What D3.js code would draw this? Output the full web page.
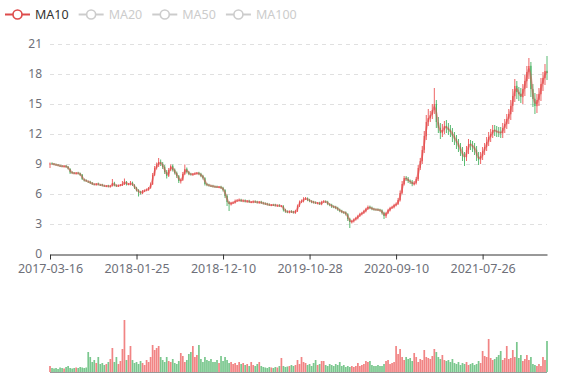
<!DOCTYPE html>
<html><head><meta charset="utf-8">
<script src="https://cdn.jsdelivr.net/npm/d3@7"></script>
<style>body{margin:0;background:#fff}svg{display:block;font-family:"Noto Sans",sans-serif}</style>
</head><body><svg id="c" width="577" height="380"></svg>
<script>
const tickLabels = ['2017-03-16','2018-01-25','2018-12-10','2019-10-28','2020-09-10','2021-07-26'];
const labelInterval = 43;
const legendNames = ['MA10','MA20','MA50','MA100'];
const activeSeries = ['MA10'];
const yTicks = [0,3,6,9,12,15,18,21];

const opens = [
8.95,9.08,9.02,8.96,8.92,8.83,8.82,8.72,8.82,8.72,
8.5,8.18,8.12,8.02,8.12,8.06,7.92,7.45,7.38,7.25,
7.22,7.12,6.98,6.92,7.04,6.92,6.93,6.84,6.76,6.84,
6.72,6.82,7.12,6.88,6.78,6.88,6.88,6.98,7.22,6.96,
6.96,7.14,6.88,6.62,6.38,6.22,6.08,6.32,6.38,6.42,
6.62,6.98,7.92,8.62,8.88,9.22,9.02,8.72,8.22,7.82,
8.42,8.82,8.42,8.12,7.78,7.28,7.42,8.02,8.52,8.18,
8.02,7.92,8.02,8.04,8.12,8.02,7.82,7.58,7.02,6.92,
6.82,6.82,6.76,6.74,6.68,6.72,6.62,6.38,5.82,5.18,4.98,
5.12,5.14,5.32,5.36,5.42,5.28,5.36,5.22,5.32,5.18,
5.18,5.26,5.22,5.12,5.22,5.12,5.06,5.02,4.96,4.88,
4.92,4.92,4.82,4.88,4.78,4.78,4.42,4.26,4.18,4.28,
4.22,4.12,4.32,4.82,5.22,5.28,5.52,5.56,5.42,5.28,
5.22,5.16,5.06,5.12,4.98,5.22,5.26,5.22,4.98,4.92,
4.76,4.72,4.62,4.44,4.32,4.18,4.16,3.98,3.52,3.18,
3.28,3.46,3.58,3.82,3.98,4.12,4.28,4.52,4.72,4.62,
4.52,4.46,4.46,4.42,4.36,4.12,3.78,4.12,4.38,4.62,4.68,
4.88,5.02,5.38,6.12,6.98,7.62,7.52,7.28,7.22,6.98,
7.12,7.48,8.62,9.28,10.42,11.78,13.22,13.58,13.92,14.42,
15.0,13.18,12.62,12.08,12.42,12.82,12.58,12.42,12.18,11.82,
11.52,11.08,10.72,10.28,9.82,9.68,10.42,11.02,10.88,10.72,
10.42,9.78,9.42,9.78,10.32,10.68,11.22,11.68,12.02,12.42,
12.28,12.22,12.22,12.08,12.62,12.98,13.52,13.98,14.82,15.78,16.82,
16.18,16.02,15.68,16.52,17.28,18.22,18.82,16.48,15.52,14.78,
15.42,15.98,17.02,17.58,18.32];

const closes = [
9.05,9.0,8.95,8.9,8.85,8.8,8.75,8.8,8.7,8.55,
8.15,8.1,8.05,8.1,8.05,7.9,7.5,7.35,7.3,7.2,
7.1,7.0,6.95,7.0,6.95,6.9,6.85,6.8,6.8,6.75,
6.8,7.1,6.85,6.8,6.85,6.9,7.0,7.25,6.95,7.0,
7.1,6.9,6.6,6.35,6.2,6.1,6.3,6.35,6.45,6.6,
7.0,7.9,8.6,8.9,9.2,9.0,8.7,8.2,7.8,8.4,
8.8,8.4,8.1,7.8,7.3,7.4,8.0,8.5,8.2,8.0,
7.95,8.0,8.05,8.1,8.0,7.8,7.6,7.0,6.9,6.85,
6.8,6.75,6.72,6.7,6.7,6.6,6.4,5.8,5.2,5.0,5.1,
5.15,5.3,5.35,5.4,5.3,5.35,5.25,5.3,5.2,5.2,
5.25,5.2,5.15,5.2,5.1,5.05,5.0,4.95,4.9,4.9,
4.9,4.85,4.85,4.8,4.8,4.4,4.25,4.2,4.25,4.2,
4.15,4.3,4.8,5.2,5.3,5.5,5.55,5.4,5.3,5.2,
5.15,5.1,5.1,5.0,5.2,5.25,5.2,5.0,4.9,4.75,
4.7,4.6,4.45,4.3,4.2,4.15,4.0,3.5,3.2,3.3,
3.45,3.6,3.8,4.0,4.1,4.3,4.5,4.7,4.6,4.5,
4.45,4.43,4.4,4.35,4.1,3.8,4.1,4.4,4.6,4.7,4.9,
5.0,5.4,6.1,7.0,7.6,7.5,7.3,7.2,7.0,7.1,
7.5,8.6,9.3,10.4,11.8,13.2,13.6,13.9,14.4,15.0,
13.2,12.6,12.1,12.4,12.8,12.6,12.4,12.2,11.8,11.5,
11.1,10.7,10.3,9.8,9.7,10.4,11.0,10.9,10.7,10.4,
9.8,9.4,9.8,10.3,10.7,11.2,11.7,12.0,12.4,12.3,
12.2,12.16,12.1,12.6,13.0,13.5,14.0,14.8,15.8,16.8,16.2,
16.0,15.7,16.5,17.3,18.2,18.8,16.5,15.5,14.8,15.4,
16.0,17.0,17.6,18.3,18.1];

const lows = [
8.6,8.92,8.88,8.82,8.78,8.72,8.68,8.65,8.62,8.45,
8.0,8.02,7.98,7.95,7.96,7.8,7.4,7.25,7.2,7.1,
7.0,6.9,6.86,6.84,6.86,6.8,6.76,6.72,6.68,6.66,
6.64,6.74,6.76,6.7,6.7,6.78,6.8,6.9,6.85,6.88,
6.86,6.8,6.5,6.25,5.75,5.95,5.98,6.2,6.28,6.32,
6.52,6.9,7.8,8.45,8.7,8.8,8.5,8.0,7.55,7.7,
8.3,8.25,7.95,7.6,7.1,7.05,7.3,7.9,8.05,7.88,
7.85,7.82,7.92,7.94,7.88,7.68,7.45,6.85,6.78,6.74,
6.7,6.65,6.62,6.6,6.58,6.5,6.25,5.6,4.8,4.3,4.85,
5.0,5.04,5.22,5.26,5.2,5.18,5.15,5.12,5.1,5.08,
5.08,5.1,5.05,5.02,5.0,4.95,4.9,4.85,4.8,4.78,
4.8,4.75,4.72,4.7,4.68,4.25,4.12,4.08,4.06,4.1,
4.05,4.02,4.2,4.7,5.1,5.16,5.4,5.28,5.18,5.08,
5.05,5.0,4.96,4.9,4.88,5.12,5.1,4.88,4.78,4.6,
4.58,4.48,4.32,4.18,4.08,4.02,3.85,3.3,2.6,3.05,
3.15,3.34,3.46,3.7,3.86,4.0,4.16,4.4,4.48,4.38,
4.34,4.33,4.3,4.24,3.95,3.5,3.6,4.0,4.26,4.5,4.56,
4.76,4.9,5.25,5.98,6.85,7.3,7.1,7.0,6.78,6.85,
6.95,7.3,8.4,9.0,10.1,11.4,12.8,13.2,13.5,14.0,
12.6,12.1,11.5,11.7,12.0,12.1,11.9,11.7,11.2,10.9,
10.5,10.2,9.8,9.3,8.8,9.3,10.0,10.4,10.2,9.9,
9.3,8.9,9.0,9.4,9.9,10.3,10.8,11.2,11.6,11.8,
11.7,11.7,11.6,11.6,12.1,12.5,13.0,13.4,14.2,15.2,15.5,
15.3,15.1,15.0,15.8,16.6,17.5,15.7,14.7,14.0,14.1,
14.8,15.3,16.3,16.9,17.4];

const highs = [
9.15,9.16,9.1,9.04,9.0,8.92,8.9,8.88,8.9,8.8,
8.58,8.28,8.2,8.2,8.22,8.14,8.0,7.55,7.46,7.34,
7.32,7.2,7.06,7.1,7.14,7.0,7.02,6.92,6.9,6.92,
6.9,7.5,7.22,6.96,6.95,7.0,7.3,7.55,7.3,7.1,
7.3,7.24,6.98,6.72,6.48,6.32,6.4,6.45,6.55,6.7,
7.15,8.1,8.8,9.15,9.6,9.45,9.2,8.9,8.4,8.6,
8.95,8.95,8.55,8.25,7.9,7.55,8.2,8.95,8.65,8.3,
8.12,8.1,8.15,8.2,8.22,8.12,7.92,7.68,7.12,7.02,
6.92,6.92,6.84,6.84,6.8,6.82,6.72,6.48,5.95,5.3,5.22,
5.25,5.45,5.48,5.55,5.52,5.45,5.46,5.4,5.42,5.3,
5.35,5.36,5.32,5.3,5.32,5.22,5.16,5.12,5.06,5.0,
5.02,5.02,4.95,4.98,4.9,4.88,4.52,4.36,4.35,4.38,
4.32,4.42,4.95,5.35,5.45,5.68,5.7,5.66,5.52,5.38,
5.32,5.26,5.2,5.22,5.32,5.38,5.36,5.32,5.08,5.02,
4.86,4.82,4.72,4.54,4.42,4.28,4.26,4.08,3.62,3.42,
3.56,3.72,3.92,4.12,4.22,4.42,4.62,4.85,4.84,4.74,
4.62,4.55,4.56,4.52,4.46,4.22,4.22,4.52,4.72,4.82,5.02,
5.15,5.6,6.35,7.3,7.8,7.8,7.7,7.45,7.4,7.3,
7.7,8.9,9.6,10.8,12.3,13.9,14.5,14.3,15.0,16.6,
15.4,13.7,13.1,13.0,13.3,13.4,13.1,12.9,12.6,12.2,
11.9,11.5,11.1,10.7,10.2,10.8,11.5,11.4,11.3,11.1,
10.8,10.2,10.2,10.7,11.1,11.7,12.2,12.5,12.9,12.9,
12.8,12.7,12.7,13.1,13.5,14.0,14.5,15.4,16.5,17.5,17.3,
16.7,16.6,17.0,17.9,18.8,19.6,19.2,17.0,16.1,16.0,
16.6,17.6,18.2,19.0,19.8];

const volumes = [
60,40,35,40,30,45,40,35,50,60,
40,35,40,45,40,50,45,40,45,200,
150,100,120,90,150,80,90,70,80,100,
130,240,100,150,80,110,230,520,120,170,
260,120,90,100,80,110,90,70,120,100,
150,270,220,240,260,150,120,100,150,110,
100,130,90,80,110,190,160,100,120,180,
200,260,150,170,270,130,100,150,120,110,
130,100,100,120,90,160,110,150,120,90,100,
80,90,70,100,80,90,70,80,60,100,
70,60,80,100,60,50,45,40,50,45,
40,50,45,60,140,60,50,55,60,70,
60,70,120,80,150,100,90,70,80,60,
90,120,70,80,110,110,70,60,80,70,
60,80,70,100,60,70,50,60,50,60,
50,60,90,60,70,80,110,100,110,70,
60,60,70,60,60,80,110,120,80,90,100,
260,180,230,150,120,150,130,140,110,190,
150,100,130,120,220,150,140,130,160,230,
200,150,130,170,120,110,120,100,130,90,
80,100,70,90,80,100,70,80,90,70,
80,110,90,210,160,150,330,140,120,130,
150,170,210,120,140,260,130,140,220,150,300,
140,170,110,130,170,120,150,80,70,60,
80,60,150,120,310];

// ---- drawing ----
const upColor = '#eb5454', downColor = '#47b262', maColor = '#dd4b4b';
const svg = d3.select('#c');
const N = closes.length;
const x = d3.scaleLinear().domain([0, N - 1]).range([50, 547]);
const y = d3.scaleLinear().domain([0, 21]).range([254, 44]);
const yv = d3.scaleLinear().domain([0, d3.max(volumes)]).range([372, 320]);
const idx = d3.range(N);
const isUp = i => closes[i] >= opens[i];

// grid lines
svg.append('g').selectAll('line').data(yTicks.filter(t => t > 0)).join('line')
  .attr('x1', 50).attr('x2', 547).attr('y1', d => Math.round(y(d)) + 0.5).attr('y2', d => Math.round(y(d)) + 0.5)
  .attr('stroke', '#e0e0e0').attr('stroke-dasharray', '4,4');

// y labels
svg.append('g').selectAll('text').data(yTicks).join('text')
  .attr('x', 42).attr('y', d => y(d) + 4).attr('text-anchor', 'end')
  .attr('font-size', 12).attr('fill', '#6e7079').text(d => d);

// x axis
const xAxis = d3.axisBottom(x).tickValues(d3.range(0, N, labelInterval))
  .tickFormat((d, i) => tickLabels[i]).tickSize(5).tickSizeOuter(0).tickPadding(5);
const gx = svg.append('g').attr('transform', 'translate(0,254.5)').call(xAxis);
gx.select('.domain').attr('stroke', '#333');
gx.selectAll('.tick line').attr('stroke', '#333');
gx.selectAll('.tick text').attr('fill', '#6e7079').attr('font-size', 12.5).attr('font-family', '"Noto Sans",sans-serif');

// candles
const bodyW = Math.max(1, (x(1) - x(0)) * 0.6);
const cg = svg.append('g');
cg.selectAll('line').data(idx).join('line')
  .attr('x1', i => x(i)).attr('x2', i => x(i))
  .attr('y1', i => y(highs[i])).attr('y2', i => y(lows[i]))
  .attr('stroke', i => isUp(i) ? upColor : downColor).attr('stroke-width', 0.9);
cg.selectAll('rect').data(idx).join('rect')
  .attr('x', i => x(i) - bodyW / 2).attr('width', bodyW)
  .attr('y', i => y(Math.max(opens[i], closes[i])))
  .attr('height', i => Math.max(0.8, Math.abs(y(opens[i]) - y(closes[i]))))
  .attr('fill', i => isUp(i) ? upColor : downColor);

// MA10 (2 weekly candles ~ 10 trading days)
const maWindow = 2;
const ma = idx.map(i => i < maWindow - 1 ? null : d3.mean(closes.slice(i - maWindow + 1, i + 1)));
svg.append('path').datum(ma)
  .attr('d', d3.line().defined(d => d != null).x((d, i) => x(i)).y(d => y(d)).curve(d3.curveMonotoneX))
  .attr('fill', 'none').attr('stroke', maColor).attr('stroke-width', 2).attr('stroke-opacity', 0.5);

// volume
const vW = (x(1) - x(0)) * 0.85;
svg.append('g').selectAll('rect').data(idx).join('rect')
  .attr('x', i => x(i) - vW / 2).attr('width', vW)
  .attr('y', i => yv(volumes[i])).attr('height', i => 372 - yv(volumes[i]))
  .attr('fill', i => isUp(i) ? upColor : downColor).attr('fill-opacity', 0.72);
svg.append('line').attr('x1', 50).attr('x2', 547).attr('y1', 372.5).attr('y2', 372.5)
  .attr('stroke', '#999').attr('stroke-width', 1);

// legend
let lx = 5;
const lg = svg.append('g');
legendNames.forEach(name => {
  const on = activeSeries.includes(name);
  const col = on ? maColor : '#ccc';
  const g = lg.append('g');
  g.append('line').attr('x1', lx).attr('x2', lx + 25).attr('y1', 14.5).attr('y2', 14.5)
    .attr('stroke', col).attr('stroke-width', 2);
  g.append('circle').attr('cx', lx + 12.5).attr('cy', 14.5).attr('r', 4.5)
    .attr('fill', '#fff').attr('stroke', col).attr('stroke-width', 1.6);
  const t = g.append('text').attr('x', lx + 30).attr('y', 14.5).attr('dominant-baseline', 'central')
    .attr('font-size', 12.5).attr('fill', on ? '#333' : '#ccc').text(name);
  lx += 30 + t.node().getComputedTextLength() + 10;
});
</script></body></html>
